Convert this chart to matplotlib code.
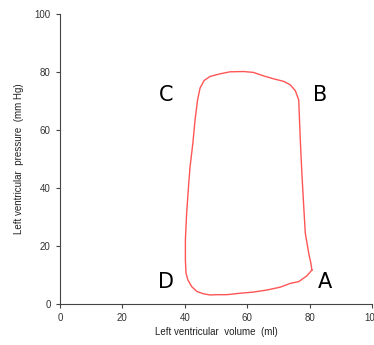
import matplotlib
matplotlib.use("Agg")
import matplotlib.pyplot as plt

plt.rcParams["font.family"] = ["Liberation Sans", "DejaVu Sans"]

# pressure-volume loop (ml, mm Hg)
volume = [80.7, 79.1, 76.5, 73.8, 70.6, 66.3, 62.0, 57.8, 53.5, 50.3, 48.1, 46.0,
          43.9, 42.2, 41.0, 40.4, 40.2, 40.2, 40.6, 41.2, 41.7, 42.6, 43.3, 44.1,
          44.9, 46.2, 48.1, 51.3, 54.5, 58.8, 62.0, 65.2, 68.4, 71.7, 73.8, 75.4,
          76.5, 76.7, 77.0, 77.5, 78.1, 78.6, 79.7, 80.4, 80.7]
pressure = [11.7, 9.7, 7.7, 7.1, 5.8, 4.8, 4.1, 3.7, 3.2, 3.2, 3.1, 3.5,
            4.3, 6.0, 8.3, 10.6, 15.2, 22.1, 31.3, 40.5, 47.4, 55.5, 63.5, 70.4,
            74.5, 77.1, 78.5, 79.4, 80.1, 80.2, 79.9, 78.7, 77.7, 76.8, 75.6, 73.6,
            70.4, 64.7, 56.6, 45.1, 33.6, 24.4, 17.5, 14.0, 11.7]

labels = ["A", "B", "C", "D"]
label_x = [84.8, 83.4, 33.9, 33.9]
label_y = [7.7, 72.1, 72.1, 7.7]

fig = plt.figure(figsize=(3.74, 3.45), dpi=100)
ax = fig.add_axes([0.160, 0.119, 0.835, 0.840])

ax.plot(volume, pressure, color="#ff5555", lw=1.0)

for lab, x, y in zip(labels, label_x, label_y):
    ax.text(x, y, lab, fontsize=15, ha="center", va="center",
            family=["DejaVu Sans"])

ax.set_xlim(0, 100)
ax.set_ylim(0, 100)
ax.set_xticks([0, 20, 40, 60, 80, 100])
ax.set_yticks([0, 20, 40, 60, 80, 100])
ax.spines["top"].set_visible(False)
ax.spines["right"].set_visible(False)
for s in ("left", "bottom"):
    ax.spines[s].set_color("#444444")
    ax.spines[s].set_linewidth(0.8)
ax.tick_params(labelsize=7, colors="#444444", length=3, width=0.8)
ax.tick_params(labelcolor="#333333")

ax.set_xlabel("Left ventricular  volume  (ml)", fontsize=7, color="#222222", labelpad=3)
ax.set_ylabel("Left ventricular  pressure  (mm Hg)", fontsize=7, color="#222222", labelpad=8)

fig.savefig("out.png", dpi=100)
